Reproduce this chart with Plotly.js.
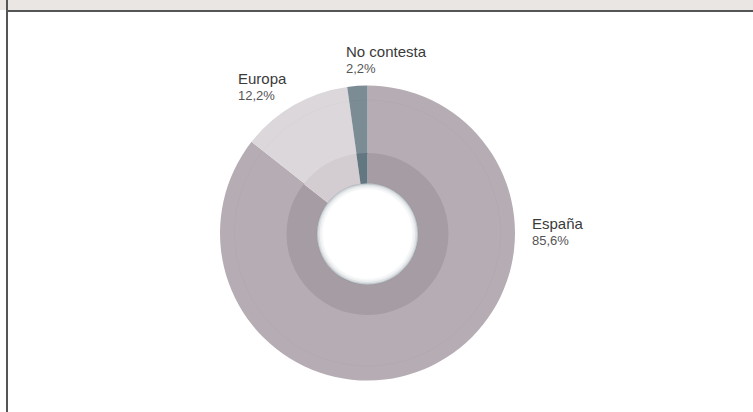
<!DOCTYPE html>
<html>
<head>
<meta charset="utf-8">
<script src="https://cdn.plot.ly/plotly-3.0.1.min.js"></script>
<style>html,body{margin:0;padding:0;background:#fff;}#chart{width:753px;height:412px;}</style>
</head>
<body>
<div id="chart"></div>
<script>
// ---- data ----
const labels = ['España', 'Europa', 'No contesta'];
const values = [85.6, 12.2, 2.2];
const outerColors = ['#b6acb3', '#dcd7db', '#7b8c95'];
const innerColors = ['#a69ca3', '#d3cdd2', '#627780'];

// ---- layout helpers ----
const W = 753, H = 412;
const px = x => x / W;
const py = y => 1 - y / H;
const cx = 367.5, cy = 233, rOuter = 147.5, rInner = 81, rHole = 50.5;

function pct(v) { return v.toFixed(1).replace('.', ',') + '%'; }

const outer = {
  type: 'pie', labels: labels, values: values, sort: false,
  direction: 'clockwise', rotation: 0, hole: (rInner - 2) / rOuter,
  marker: {colors: outerColors, line: {width: 0}},
  textinfo: 'none', hoverinfo: 'skip', showlegend: false,
  domain: {x: [px(cx - rOuter), px(cx + rOuter)], y: [py(cy + rOuter), py(cy - rOuter)]}
};
const inner = {
  type: 'pie', labels: labels, values: values, sort: false,
  direction: 'clockwise', rotation: 0, hole: rHole / rInner,
  marker: {colors: innerColors, line: {width: 0}},
  textinfo: 'none', hoverinfo: 'skip', showlegend: false,
  domain: {x: [px(cx - rInner), px(cx + rInner)], y: [py(cy + 1 + rInner), py(cy + 1 - rInner)]}
};

// label anchor positions (layout, pixels)
const labelPos = [
  {x: 530, yName: 223.5, yPct: 241},
  {x: 236, yName: 78.5, yPct: 95},
  {x: 344, yName: 51.5, yPct: 68}
];
const annotations = [];
labels.forEach((lab, i) => {
  const p = labelPos[i];
  annotations.push({xref: 'paper', yref: 'paper', x: px(p.x), y: py(p.yName), xanchor: 'left', yanchor: 'middle',
    text: lab, showarrow: false, font: {family: 'Liberation Sans, Arial, sans-serif', size: 15, color: '#3a3a3a'}});
  annotations.push({xref: 'paper', yref: 'paper', x: px(p.x), y: py(p.yPct), xanchor: 'left', yanchor: 'middle',
    text: pct(values[i]), showarrow: false, font: {family: 'Liberation Sans, Arial, sans-serif', size: 13, color: '#555'}});
});

function circ(r, cyy, line, width, fill) {
  return {type: 'circle', xref: 'paper', yref: 'paper', layer: 'above',
    x0: px(cx - r), x1: px(cx + r), y0: py(cyy + r), y1: py(cyy - r),
    line: {color: line, width: width}, fillcolor: fill || 'rgba(0,0,0,0)'};
}

const shapes = [
  // header bar
  {type: 'rect', xref: 'paper', yref: 'paper', x0: 0, x1: 1, y0: py(10), y1: 1, fillcolor: '#e9e6e3', line: {width: 0}, layer: 'below'},
  {type: 'line', xref: 'paper', yref: 'paper', x0: px(6), x1: 1, y0: py(11), y1: py(11), line: {color: '#555', width: 2}},
  {type: 'line', xref: 'paper', yref: 'paper', x0: px(7), x1: px(7), y0: 0, y1: 1, line: {color: '#555', width: 2}},
  // faint ring in outer pie
  circ(133, cy, 'rgba(0,0,0,0.02)', 1),
  // hole shadow
  circ(rHole - 0.5, cy + 1, 'rgba(120,135,145,0.45)', 1.5),
  circ(rHole - 2, cy + 1, 'rgba(160,170,178,0.35)', 1.5),
  circ(rHole - 3.5, cy + 1, 'rgba(200,206,210,0.3)', 1.5),
  circ(rHole - 5, cy + 1, 'rgba(225,228,231,0.3)', 1.5)
];

const layout = {
  width: W, height: H,
  margin: {l: 0, r: 0, t: 0, b: 0},
  paper_bgcolor: '#ffffff',
  showlegend: false,
  annotations: annotations,
  shapes: shapes
};

Plotly.newPlot('chart', [outer, inner], layout, {displayModeBar: false, staticPlot: true});
</script>
</body>
</html>
